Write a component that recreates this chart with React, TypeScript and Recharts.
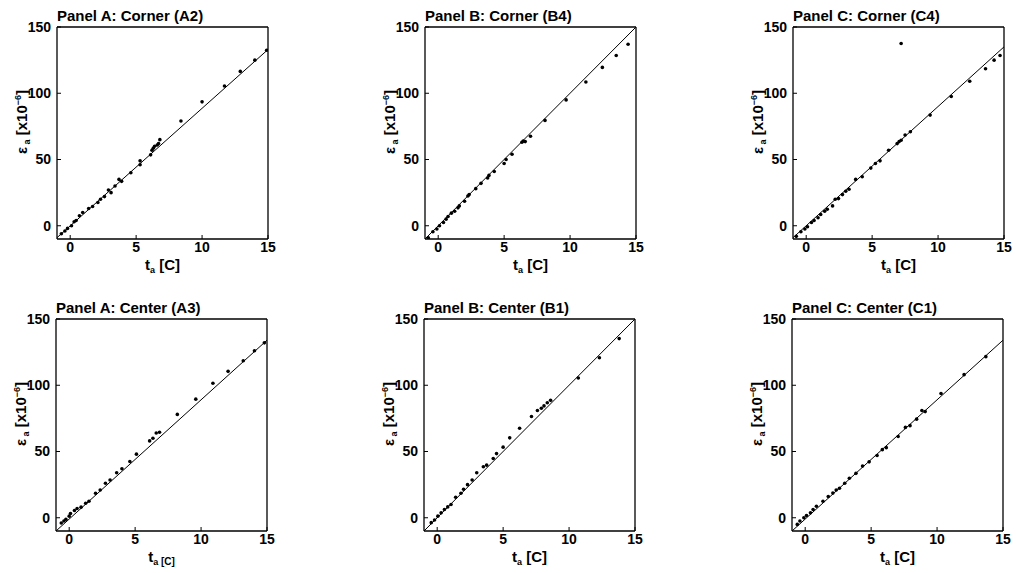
import { ScatterChart, Scatter, XAxis, YAxis } from 'recharts';

const X_TICKS = [0, 5, 10, 15];
const Y_TICKS = [0, 50, 100, 150];

// measured points [t_a, eps_a] per gauge
const a2Pts: [number, number][] = [
  [-0.67, -6], [-0.4, -4], [-0.2, -2], [0.1, 0], [0.3, 3], [0.45, 4], [0.7, 7.5], [0.95, 10],
  [1.4, 13], [1.7, 14.5], [2.1, 17.5], [2.3, 20], [2.6, 22], [2.9, 27], [3.1, 25], [3.4, 30],
  [3.7, 35], [3.9, 33.5], [4.6, 40], [5.3, 49], [5.3, 46], [6.1, 53.5], [6.2, 57], [6.3, 58.5],
  [6.4, 60], [6.6, 61], [6.7, 62], [6.8, 65], [8.4, 79], [10, 93.5], [11.7, 105.5], [12.9, 116.5],
  [14, 125], [14.9, 132.5],
];
const b4Pts: [number, number][] = [
  [-0.75, -9], [-0.4, -4.5], [-0.1, -2.5], [0.1, 0], [0.4, 2.5], [0.6, 5], [0.75, 7], [1, 9.5],
  [1.25, 11], [1.5, 13.5], [1.6, 15], [2, 18.5], [2.25, 22.5], [2.35, 23.5], [2.85, 28], [3.25, 32],
  [3.75, 36], [3.85, 38], [4.25, 41], [5, 47], [5.15, 50], [5.6, 54], [6.35, 63], [6.45, 64],
  [6.6, 63.5], [7, 67.5], [8.1, 79.5], [9.7, 95], [11.2, 108.5], [12.45, 119.5], [13.5, 128.5],
  [14.4, 137],
];
const c4Pts: [number, number][] = [
  [-0.75, -8], [-0.4, -4.5], [-0.1, -2.5], [0.1, -0.7], [0.4, 2.5], [0.6, 4], [0.9, 6], [1.1, 8.5],
  [1.4, 11], [1.6, 12.5], [2, 15], [2.2, 20], [2.45, 20.5], [2.75, 23.5], [3, 26], [3.25, 27.5],
  [3.75, 35], [4.25, 37], [4.9, 43.5], [5.25, 47], [5.6, 49], [6.25, 57], [6.9, 62], [7.05, 63.5],
  [7.2, 64.5], [7.5, 68.5], [7.9, 71], [7.2, 137.5], [9.4, 83.5], [11, 97.5], [12.4, 109],
  [13.6, 118.5], [14.25, 125], [14.7, 128.5],
];
const a3Pts: [number, number][] = [
  [-0.6, -4], [-0.4, -2.5], [-0.25, -1.2], [0, 1.2], [0.1, 3.2], [0.4, 5.5], [0.6, 7], [0.9, 8],
  [1.25, 11], [1.5, 12.5], [2, 18.5], [2.35, 21], [2.75, 26], [3.1, 28.5], [3.6, 34], [4, 37],
  [4.6, 42.5], [5.1, 48], [6.1, 58], [6.35, 60], [6.6, 64], [6.85, 64.5], [8.2, 78], [9.6, 89.5],
  [10.9, 101.5], [12.05, 110.5], [13.2, 118.5], [14.05, 126], [14.8, 132],
];
const b1Pts: [number, number][] = [
  [-0.45, -3.7], [-0.2, -1.7], [0.05, 1.2], [0.3, 3.7], [0.55, 6.2], [0.8, 8.2], [1.05, 10],
  [1.4, 15.5], [1.8, 18.5], [2, 21.5], [2.3, 25], [2.65, 28.5], [3, 34], [3.5, 38.5], [3.75, 39.7],
  [4.25, 44.7], [4.5, 48.4], [5, 53.3], [5.5, 60.3], [6.25, 67.5], [7.15, 76.4], [7.6, 81],
  [7.9, 82.6], [8.1, 84.4], [8.35, 86.8], [8.6, 88.6], [10.7, 105.5], [12.3, 120.8], [13.8, 135.2],
];
const c1Pts: [number, number][] = [
  [-0.6, -5], [-0.4, -2.5], [-0.1, 0], [0.1, 1.7], [0.4, 3.7], [0.6, 6.2], [0.85, 8.7], [1.35, 12.4],
  [1.75, 16], [2.1, 18.6], [2.35, 21], [2.6, 22.3], [3, 26], [3.35, 29.8], [3.85, 33.5], [4.35, 39],
  [4.85, 42.2], [5.45, 47], [5.85, 51.4], [6.15, 52.9], [7.05, 61.3], [7.6, 68.2], [7.95, 69.5],
  [8.45, 74.4], [8.85, 81], [9.1, 80.1], [10.3, 93.8], [12.05, 108], [13.7, 121.6],
];

// fitted lines, end points
const a2Fit: [number, number][] = [[-1, -9], [15, 133]];
const b4Fit: [number, number][] = [[-1, -10], [15, 150]];
const c4Fit: [number, number][] = [[-1, -9], [15, 135]];
const a3Fit: [number, number][] = [[-1, -10], [15, 134]];
const b1Fit: [number, number][] = [[-1, -10], [15, 150]];
const c1Fit: [number, number][] = [[-1, -10], [15, 134]];

const FONT = '"Liberation Sans", Arial, Helvetica, sans-serif';
const tickStyle = { fill: '#000', fontSize: 14, fontWeight: 700, fontFamily: FONT };
const axisLine = { stroke: '#000', strokeWidth: 1.3 };
const tickLine = { stroke: '#000', strokeWidth: 1 };

const toXY = (p: [number, number][]) => p.map(([x, y]) => ({ x, y }));

const Dot = (props: any) => <circle cx={props.cx} cy={props.cy} r={1.8} fill="#000" />;

interface PanelProps {
  title: string;
  pts: [number, number][];
  fit: [number, number][];
  left: number;
  top: number;
  smallUnit?: boolean;
}

function Panel({ title, pts, fit, left, top, smallUnit }: PanelProps) {
  return (
    <div style={{ position: 'absolute', left, top }}>
      <ScatterChart width={280} height={290} margin={{ top: 26, right: 11, bottom: 21, left: 17 }}>
        <XAxis
          type="number"
          dataKey="x"
          domain={[-1, 15]}
          ticks={X_TICKS}
          interval={0}
          allowDataOverflow
          height={30}
          tick={tickStyle}
          tickSize={-4}
          tickMargin={7}
          axisLine={axisLine}
          tickLine={tickLine}
          label={{
            content: (p: any) => {
              const vb = p.viewBox;
              const cx = vb.x + vb.width / 2;
              return (
                <text x={cx} y={vb.y + 31} textAnchor="middle" fontFamily={FONT} fontWeight={700} fontSize={15} fill="#000">
                  t
                  <tspan fontSize={9} dy={3}>a</tspan>
                  {smallUnit ? (
                    <tspan fontSize={10}> [C]</tspan>
                  ) : (
                    <tspan dy={-3}> [C]</tspan>
                  )}
                </text>
              );
            },
          }}
        />
        <XAxis
          xAxisId="top"
          orientation="top"
          type="number"
          dataKey="x"
          domain={[-1, 15]}
          ticks={X_TICKS}
          interval={0}
          allowDataOverflow
          height={1}
          tick={false}
          tickSize={-4}
          axisLine={axisLine}
          tickLine={tickLine}
          label={{
            content: (p: any) => {
              const vb = p.viewBox;
              return (
                <text x={vb.x} y={vb.y - 5} fontFamily={FONT} fontWeight={700} fontSize={15} fill="#000">
                  {title}
                </text>
              );
            },
          }}
        />
        <YAxis
          type="number"
          dataKey="y"
          domain={[-10, 150]}
          ticks={Y_TICKS}
          interval={0}
          allowDataOverflow
          width={40}
          tick={tickStyle}
          tickSize={-4}
          tickMargin={10}
          axisLine={axisLine}
          tickLine={tickLine}
          label={{
            content: (p: any) => {
              const vb = p.viewBox;
              const cx = vb.x + 10;
              const cy = vb.y + 95;
              return (
                <text
                  x={cx}
                  y={cy}
                  transform={`rotate(-90 ${cx} ${cy})`}
                  textAnchor="middle"
                  fontFamily={FONT}
                  fontWeight={700}
                  fontSize={15}
                  fill="#000"
                >
                  ε
                  <tspan fontSize={9} dy={3}> a</tspan>
                  <tspan dy={-3}> [x10</tspan>
                  <tspan fontSize={9} dy={-6}>−6</tspan>
                  <tspan dy={6}>]</tspan>
                </text>
              );
            },
          }}
        />
        <YAxis
          yAxisId="right"
          orientation="right"
          type="number"
          dataKey="y"
          domain={[-10, 150]}
          ticks={Y_TICKS}
          interval={0}
          allowDataOverflow
          width={1}
          tick={false}
          tickSize={-4}
          axisLine={axisLine}
          tickLine={tickLine}
        />
        <Scatter
          xAxisId="top"
          yAxisId="right"
          data={toXY(fit)}
          line={{ stroke: '#000', strokeWidth: 1 }}
          shape={() => <g />}
          isAnimationActive={false}
        />
        <Scatter data={toXY(pts)} shape={Dot} isAnimationActive={false} />
      </ScatterChart>
    </div>
  );
}

export default function App() {
  return (
    <div style={{ position: 'absolute', left: 0, top: 0, width: 1016, height: 573, background: '#fff' }}>
      <Panel title="Panel A: Corner (A2)" pts={a2Pts} fit={a2Fit} left={0} top={0} />
      <Panel title="Panel B: Corner (B4)" pts={b4Pts} fit={b4Fit} left={368} top={0} />
      <Panel title="Panel C: Corner (C4)" pts={c4Pts} fit={c4Fit} left={736} top={0} />
      <Panel title="Panel A: Center (A3)" pts={a3Pts} fit={a3Fit} left={-1} top={292} smallUnit />
      <Panel title="Panel B: Center (B1)" pts={b1Pts} fit={b1Fit} left={367} top={292} />
      <Panel title="Panel C: Center (C1)" pts={c1Pts} fit={c1Fit} left={735} top={292} />
    </div>
  );
}
